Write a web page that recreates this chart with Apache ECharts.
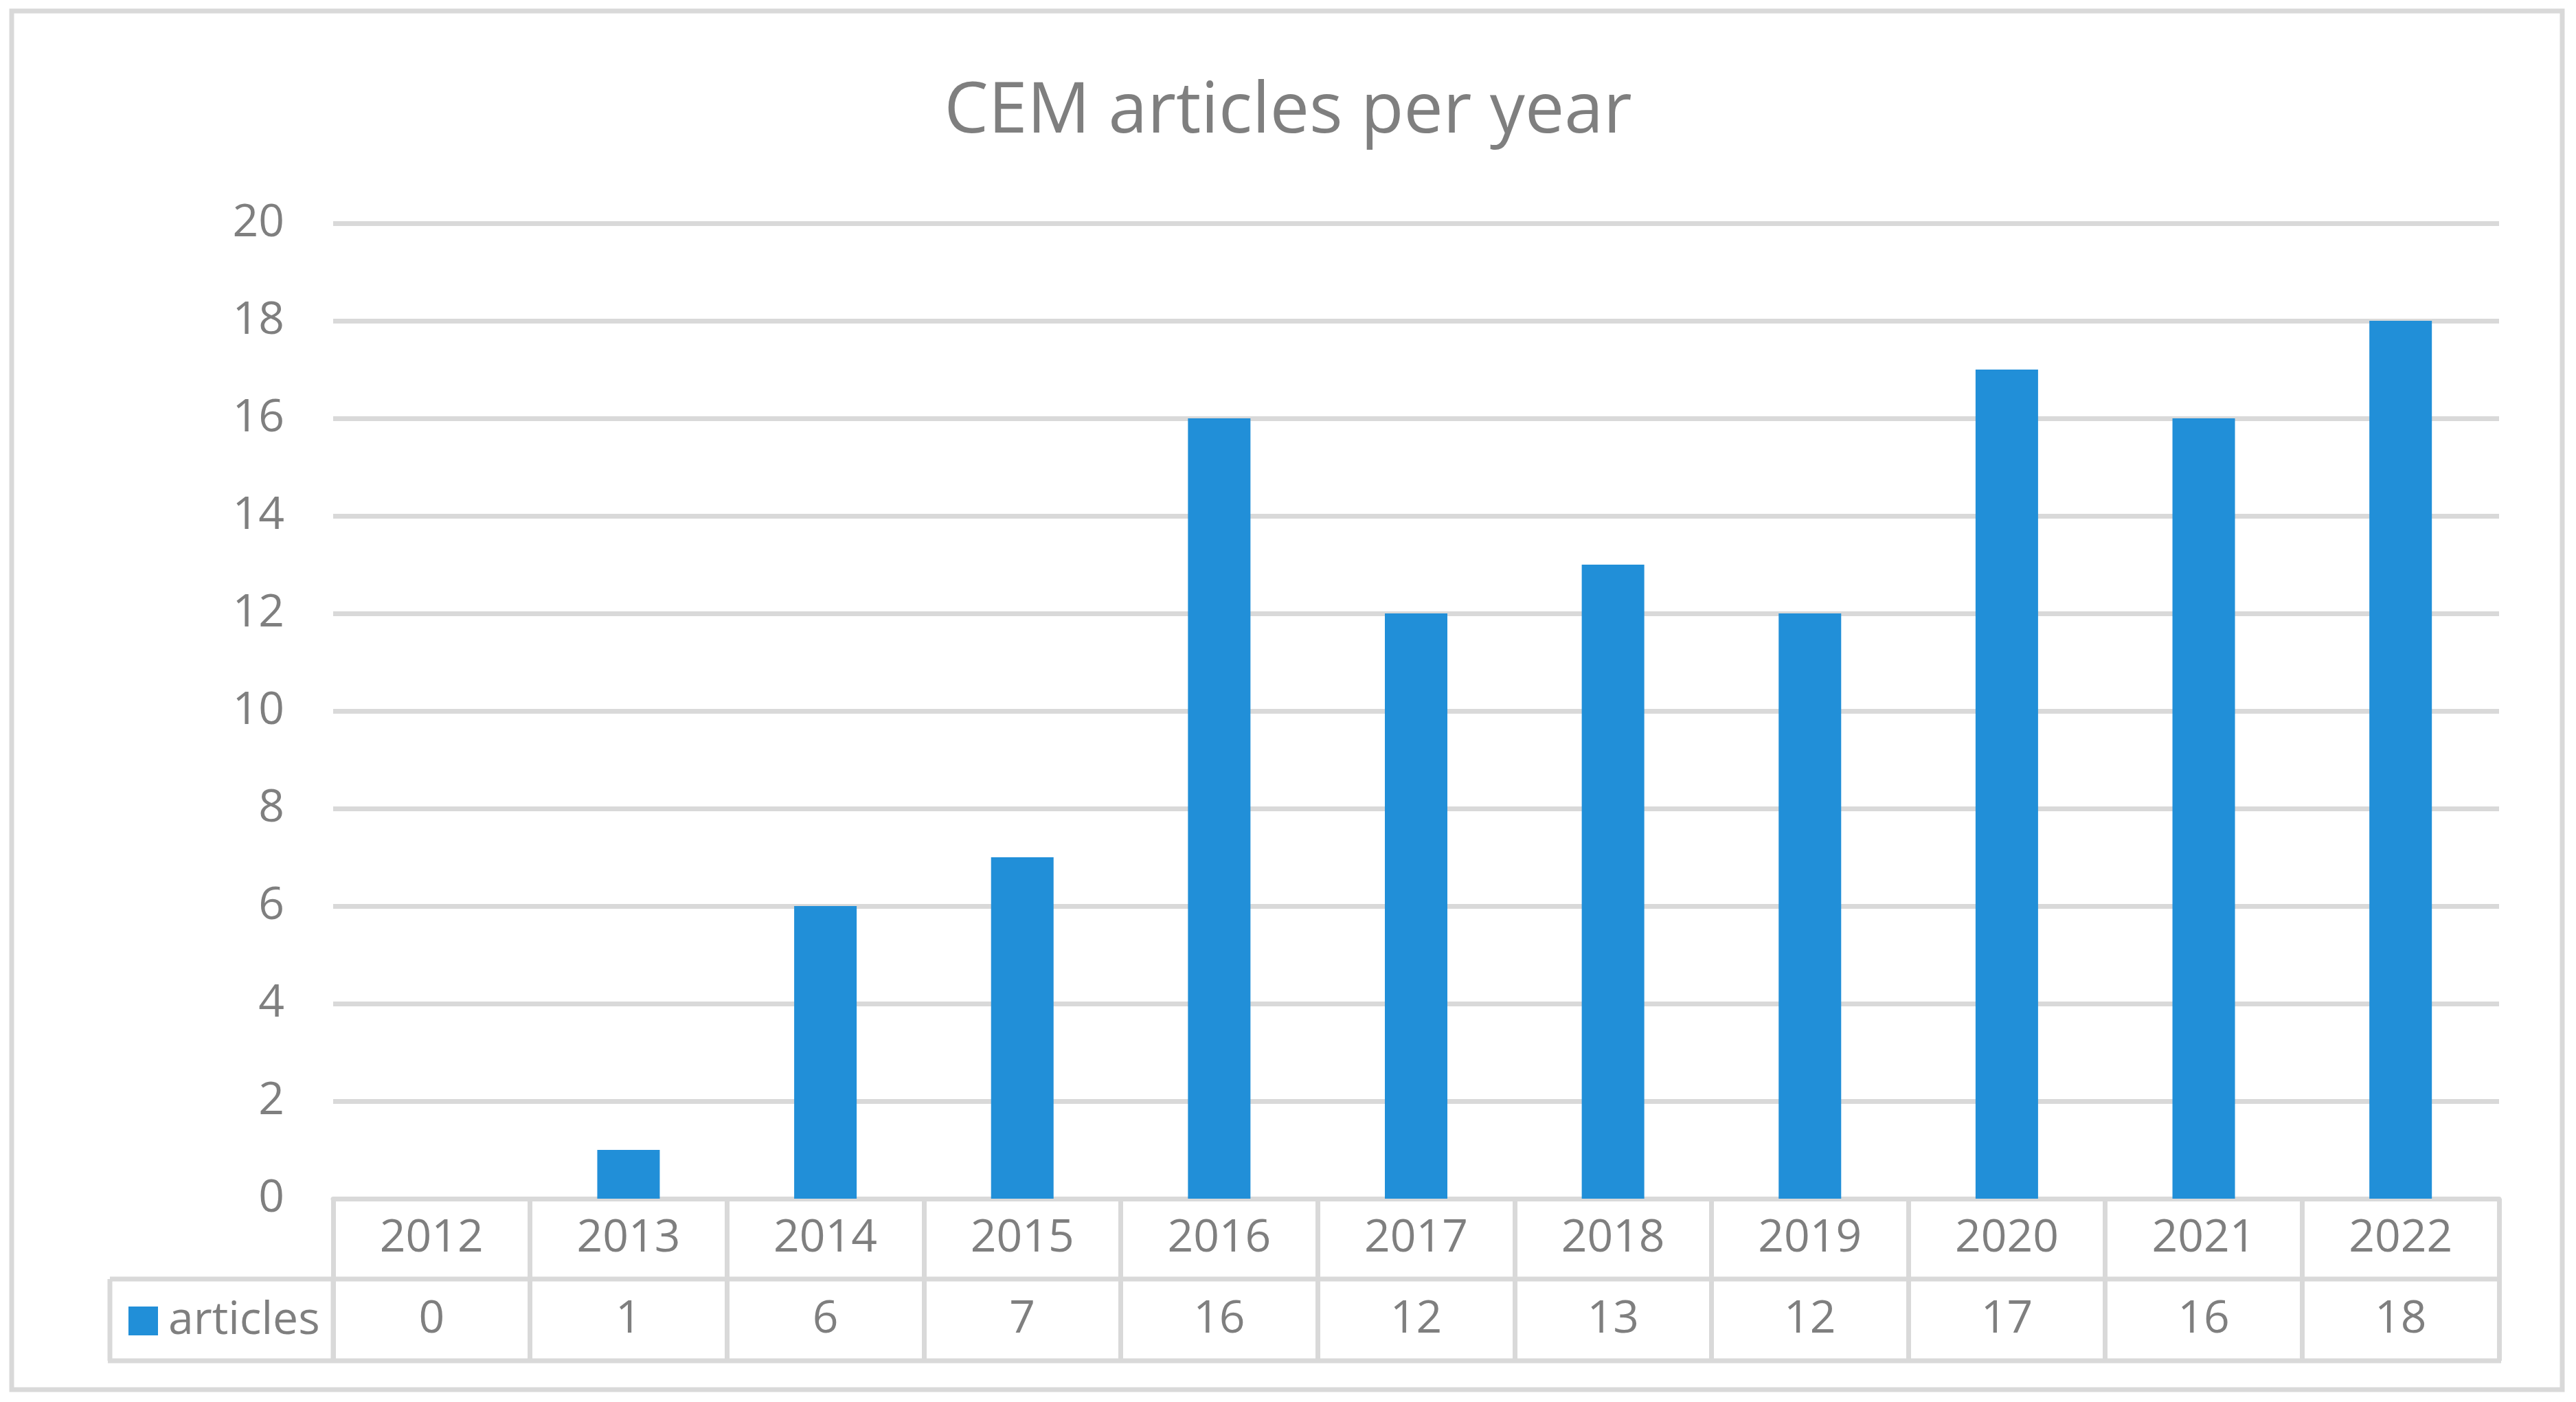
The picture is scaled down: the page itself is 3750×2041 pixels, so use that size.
<!DOCTYPE html>
<html>
<head>
<meta charset="utf-8">
<script src="https://cdn.jsdelivr.net/npm/echarts@6/dist/echarts.min.js"></script>
<style>
html,body{margin:0;padding:0;background:#fff;}
#c{width:3750px;height:2041px;}
</style>
</head>
<body>
<div id="c"></div>
<script>
const titleText = 'CEM articles per year';
const seriesName = 'articles';
const years = ['2012','2013','2014','2015','2016','2017','2018','2019','2020','2021','2022'];
const articles = [0, 1, 6, 7, 16, 12, 13, 12, 17, 16, 18];
const yMin = 0, yMax = 20, yStep = 2;

const GL = 485, GR = 3750 - 3638, GT = 325, GB = 2041 - 1745;
const lineColor = '#d9d9d9';
const textColor = '#7f7f7f';
const font = '"Open Sans", sans-serif';
const LW = 7;

const chart = echarts.init(document.getElementById('c'), null, {renderer: 'canvas'});

const W = 3750, H = 2041;
const axisY = H - GB;
const row1 = axisY + 117;
const row2 = axisY + 236;
const tableLeft = 160;
const gridRight = W - GR;

chart.setOption({
  backgroundColor: '#fff',
  animation: false,
  title: {
    text: titleText,
    left: 'center',
    top: 108,
    textStyle: {fontFamily: font, fontSize: 102, fontWeight: 'normal', color: textColor}
  },
  legend: {
    data: [seriesName],
    left: 182,
    top: row1 + 23,
    itemWidth: 43,
    itemHeight: 42,
    icon: 'rect',
    textStyle: {fontFamily: font, fontSize: 66, color: textColor, padding: [0,0,0,10]}
  },
  grid: {left: GL, right: GR, top: GT, bottom: GB, containLabel: false},
  xAxis: {
    type: 'category',
    data: years,
    axisLine: {show: true, lineStyle: {color: lineColor, width: LW}},
    axisTick: {show: true, length: 236, alignWithLabel: false, lineStyle: {color: lineColor, width: LW}},
    axisLabel: {
      margin: 0,
      interval: 0,
      formatter: function (v, i) {
        return '{y|' + v + '}\n{v|' + articles[i] + '}';
      },
      rich: {
        y: {fontFamily: font, fontSize: 66, color: textColor, lineHeight: 117, align: 'center'},
        v: {fontFamily: font, fontSize: 66, color: textColor, lineHeight: 119, align: 'center'}
      }
    },
    splitLine: {show: false}
  },
  yAxis: {
    type: 'value',
    min: yMin, max: yMax, interval: yStep,
    axisLine: {show: false},
    axisTick: {show: false},
    axisLabel: {margin: 71, fontFamily: font, fontSize: 66, color: textColor},
    splitLine: {show: true, lineStyle: {color: lineColor, width: LW}}
  },
  series: [{
    name: seriesName,
    type: 'bar',
    data: articles,
    barWidth: 91,
    itemStyle: {color: '#218fd8'}
  }],
  graphic: [
    {type: 'rect', shape: {x: 17, y: 16, width: 3713, height: 2007}, style: {fill: 'none', stroke: lineColor, lineWidth: LW}, silent: true, z: -1},
    {type: 'line', shape: {x1: tableLeft, y1: row1, x2: gridRight, y2: row1}, style: {stroke: lineColor, lineWidth: LW}},
    {type: 'line', shape: {x1: tableLeft - 3, y1: row2, x2: gridRight + 3, y2: row2}, style: {stroke: lineColor, lineWidth: LW}},
    {type: 'line', shape: {x1: tableLeft, y1: row1, x2: tableLeft, y2: row2}, style: {stroke: lineColor, lineWidth: LW}},
    {type: 'line', shape: {x1: GL, y1: row1, x2: GL, y2: row2}, style: {stroke: lineColor, lineWidth: LW}}
  ]
});
</script>
</body>
</html>
